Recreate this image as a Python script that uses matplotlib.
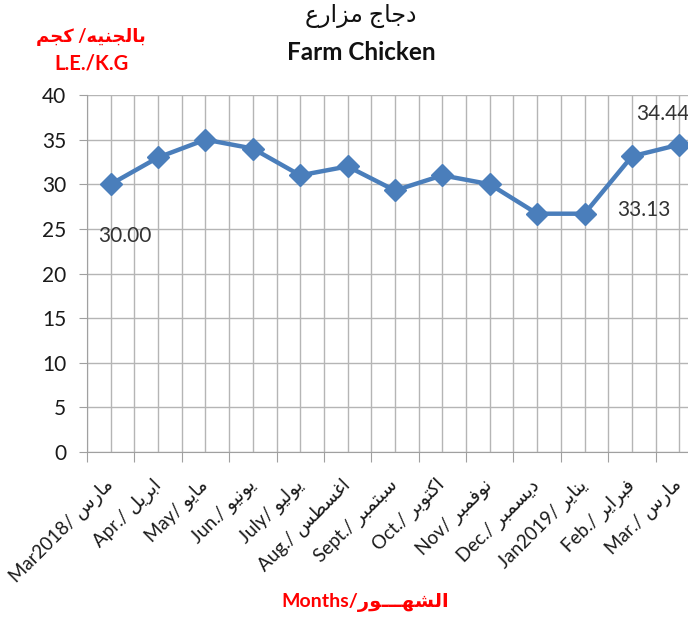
import matplotlib
matplotlib.use("Agg")
import matplotlib.pyplot as plt
from matplotlib.ticker import MultipleLocator

# chart data
months_en = ["Mar2018", "Apr.", "May", "Jun.", "July", "Aug.", "Sept.",
             "Oct.", "Nov", "Dec.", "Jan2019", "Feb.", "Mar."]
months_ar = ["مارس", "ابريل", "مايو", "يونيو", "يوليو", "اغسطس", "سبتمبر",
             "اكتوبر", "نوفمبر", "ديسمبر", "يناير", "فبراير", "مارس"]
prices = [30.00, 33.0, 35.0, 34.0, 31.0, 32.0, 29.3, 31.0, 30.0, 26.7, 26.7, 33.13, 34.44]
labelled = {0: "30.00", 11: "33.13", 12: "34.44"}

title_ar = "دجاج مزارع"
title_en = "Farm Chicken"
unit_ar = "بالجنيه/ كجم"
unit_en = "L.E./K.G"
xlabel_en = "Months/"
xlabel_ar = "الشهـــور"

# minimal Arabic shaping (presentation forms B), since matplotlib does not shape
FORMS = {  # isolated, final, initial, medial
    "ا": (0xFE8D, 0xFE8E, None, None), "ب": (0xFE8F, 0xFE90, 0xFE91, 0xFE92),
    "ة": (0xFE93, 0xFE94, None, None), "ت": (0xFE95, 0xFE96, 0xFE97, 0xFE98),
    "ث": (0xFE99, 0xFE9A, 0xFE9B, 0xFE9C), "ج": (0xFE9D, 0xFE9E, 0xFE9F, 0xFEA0),
    "ح": (0xFEA1, 0xFEA2, 0xFEA3, 0xFEA4), "خ": (0xFEA5, 0xFEA6, 0xFEA7, 0xFEA8),
    "د": (0xFEA9, 0xFEAA, None, None), "ذ": (0xFEAB, 0xFEAC, None, None),
    "ر": (0xFEAD, 0xFEAE, None, None), "ز": (0xFEAF, 0xFEB0, None, None),
    "س": (0xFEB1, 0xFEB2, 0xFEB3, 0xFEB4), "ش": (0xFEB5, 0xFEB6, 0xFEB7, 0xFEB8),
    "ص": (0xFEB9, 0xFEBA, 0xFEBB, 0xFEBC), "ض": (0xFEBD, 0xFEBE, 0xFEBF, 0xFEC0),
    "ط": (0xFEC1, 0xFEC2, 0xFEC3, 0xFEC4), "ظ": (0xFEC5, 0xFEC6, 0xFEC7, 0xFEC8),
    "ع": (0xFEC9, 0xFECA, 0xFECB, 0xFECC), "غ": (0xFECD, 0xFECE, 0xFECF, 0xFED0),
    "ف": (0xFED1, 0xFED2, 0xFED3, 0xFED4), "ق": (0xFED5, 0xFED6, 0xFED7, 0xFED8),
    "ك": (0xFED9, 0xFEDA, 0xFEDB, 0xFEDC), "ل": (0xFEDD, 0xFEDE, 0xFEDF, 0xFEE0),
    "م": (0xFEE1, 0xFEE2, 0xFEE3, 0xFEE4), "ن": (0xFEE5, 0xFEE6, 0xFEE7, 0xFEE8),
    "ه": (0xFEE9, 0xFEEA, 0xFEEB, 0xFEEC), "و": (0xFEED, 0xFEEE, None, None),
    "ى": (0xFEEF, 0xFEF0, None, None), "ي": (0xFEF1, 0xFEF2, 0xFEF3, 0xFEF4),
}
TATWEEL = "ـ"


def dual(c):
    return c == TATWEEL or (c in FORMS and FORMS[c][2] is not None)


def joins(c):
    return c == TATWEEL or c in FORMS


def ar(text):
    out = []
    for i, c in enumerate(text):
        if c not in FORMS:
            out.append(c)
            continue
        prev_ok = i > 0 and dual(text[i - 1])
        next_ok = i + 1 < len(text) and dual(c) and joins(text[i + 1])
        iso, fin, ini, med = FORMS[c]
        if prev_ok and next_ok:
            code = med
        elif prev_ok:
            code = fin
        elif next_ok:
            code = ini
        else:
            code = iso
        out.append(chr(code))
    return "".join(reversed(out))


plt.rcParams["font.family"] = ["Lato", "DejaVu Sans"]

fig = plt.figure(figsize=(6.88, 6.23), dpi=100)
ax = fig.add_axes([87 / 688, 1 - 452 / 623, 616 / 688, 357 / 623])

x = list(range(len(prices)))
ax.plot(x, prices, color="#4A7EBB", linewidth=3.2, marker="D", markersize=11,
        markeredgecolor="#4A7EBB", zorder=3, clip_on=False)

ax.set_xlim(-0.5, len(prices) - 0.5)
ax.set_ylim(0, 40)
ax.yaxis.set_major_locator(MultipleLocator(5))
ax.set_xticks([i - 0.5 for i in range(len(prices) + 1)])
ax.set_xticks(x, minor=True)
ax.set_xticklabels([])
ax.set_xticklabels([f"{en}/ {ar(a)}" for en, a in zip(months_en, months_ar)], minor=True,
                   rotation=45, ha="right", va="center", rotation_mode="anchor",
                   fontsize=13.5, color="#1a1a1a")
ax.tick_params(axis="x", which="major", length=7, color="#a0a0a0", direction="out")
ax.tick_params(axis="x", which="minor", length=0, pad=22)
ax.tick_params(axis="y", length=6, color="#a0a0a0", labelsize=15, labelcolor="#1a1a1a", pad=9)

ax.grid(True, which="both", axis="x", color="#b5b5b5", linewidth=1)
ax.grid(True, which="major", axis="y", color="#b5b5b5", linewidth=1)
ax.set_axisbelow(True)
for side in ("top", "right"):
    ax.spines[side].set_visible(False)
for side in ("left", "bottom"):
    ax.spines[side].set_color("#a0a0a0")

offsets = {0: (0.3, -5.8), 11: (0.25, -6.0), 12: (-0.35, 3.4)}
for i, txt in labelled.items():
    dx, dy = offsets[i]
    ax.text(i + dx, prices[i] + dy, txt, ha="center", va="center", fontsize=15,
            color="#333333", clip_on=False)

fig.text(0.525, 1 - 16 / 623, ar(title_ar), ha="center", va="center", fontsize=17,
         color="#111111")
fig.text(0.525, 1 - 53 / 623, title_en, ha="center", va="center", fontsize=17.5,
         fontweight="bold", color="#111111")
fig.text(91 / 688, 1 - 37 / 623, ar(unit_ar), ha="center", va="center", fontsize=13,
         fontweight="bold", color="red")
fig.text(91 / 688, 1 - 63 / 623, unit_en, ha="center", va="center", fontsize=14.5,
         fontweight="bold", color="red")
fig.text(365 / 688, 1 - 603 / 623, xlabel_en + ar(xlabel_ar), ha="center", va="center",
         fontsize=14, fontweight="bold", color="red")

fig.savefig("out.png", dpi=100)
